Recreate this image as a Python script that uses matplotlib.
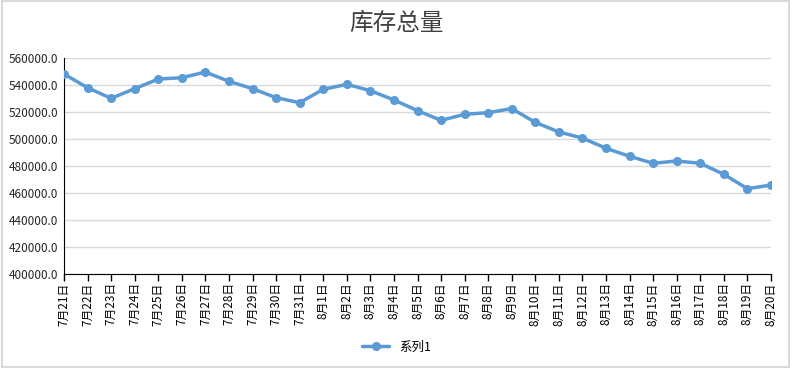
import matplotlib
matplotlib.use("Agg")
import matplotlib.pyplot as plt
from matplotlib.patches import Rectangle

plt.rcParams['font.family'] = ['Noto Sans CJK SC', 'DejaVu Sans']

dates = [f"7月{d}日" for d in range(21, 32)] + [f"8月{d}日" for d in range(1, 21)]
stock = [
    548100, 538000, 530100, 537300, 544400, 545400, 549600, 542700, 537300, 530600,
    526900, 536800, 540500, 535800, 528900, 521000, 513800, 518300, 519500, 522500,
    512300, 505200, 500700, 493100, 487200, 482000, 483700, 482000, 473800, 463200,
    465900,
]
y_ticks = list(range(400000, 560001, 20000))

LINE_CLR = "#5b9bd5"

fig = plt.figure(figsize=(7.93, 3.68), dpi=100)
ax = fig.add_axes([64 / 793, 1 - 274 / 368, 707 / 793, 216 / 368])

x = list(range(len(dates)))
ax.plot(x, stock, color=LINE_CLR, lw=2.5, marker='o', ms=5.5, label="系列1",
        solid_capstyle='round', zorder=3)

ax.set_xlim(0, len(dates) - 1)
ax.set_ylim(400000, 560000)
ax.set_yticks(y_ticks)
ax.set_yticklabels([f"{v:.1f}" for v in y_ticks], fontsize=8.5, color="#262626")
ax.set_xticks(x)
ax.set_xticklabels(dates, rotation=90, fontsize=8.5, color="#000000")
ax.tick_params(axis='y', length=0, pad=4)
ax.tick_params(axis='x', length=5, width=1, color="#000000", pad=1, direction='out')
ax.grid(axis='y', color="#d9d9d9", lw=1)
ax.set_axisbelow(True)
for s in ['top', 'right']:
    ax.spines[s].set_visible(False)
ax.spines['left'].set_color("#000000")
ax.spines['bottom'].set_color("#000000")

fig.text(0.5, 1 - 23 / 368, "库存总量", ha='center', va='center', fontsize=17,
         color="#404040")
fig.legend(loc='center', bbox_to_anchor=(0.5, 1 - 347 / 368), frameon=False,
           fontsize=9, handlelength=2.2)

fig.patches.append(Rectangle((0.002, 0.003), 0.993, 0.994, transform=fig.transFigure,
                             fill=False, edgecolor="#d9d9d9", lw=1.5))

fig.savefig("out.png", dpi=100)
